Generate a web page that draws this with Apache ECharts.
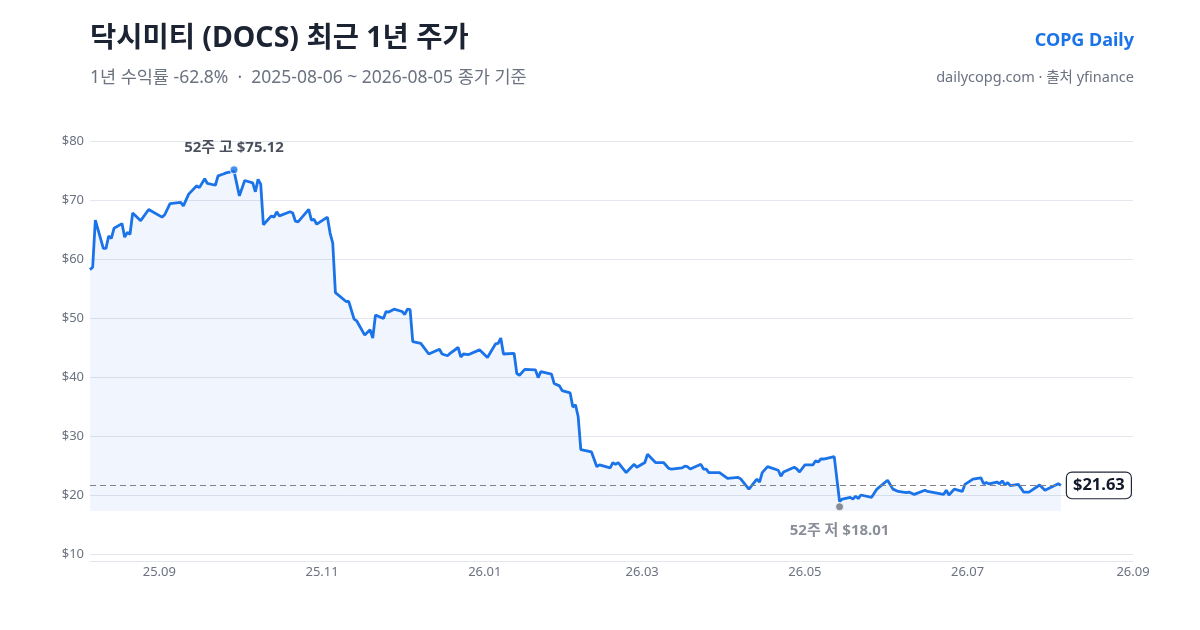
<!DOCTYPE html>
<html>
<head>
<meta charset="utf-8">
<title>닥시미티 (DOCS) 최근 1년 주가</title>
<script src="https://cdn.jsdelivr.net/npm/echarts@6/dist/echarts.min.js"></script>
<style>
  html, body { margin: 0; padding: 0; background: #fff; }
  #chart { width: 1200px; height: 630px; }
</style>
</head>
<body>
<div id="chart"></div>
<script>
var FONT = '"Noto Sans", "Noto Sans CJK KR", sans-serif'

// 종가
var dates = [
  '2025-08-06', '2025-08-07', '2025-08-08', '2025-08-11', '2025-08-12', '2025-08-13', '2025-08-14', '2025-08-15',
  '2025-08-18', '2025-08-19', '2025-08-20', '2025-08-21', '2025-08-22', '2025-08-25', '2025-08-28',
  '2025-09-02', '2025-09-03', '2025-09-05', '2025-09-09', '2025-09-10', '2025-09-12', '2025-09-15', '2025-09-16',
  '2025-09-18', '2025-09-19', '2025-09-22', '2025-09-23', '2025-09-25', '2025-09-26', '2025-09-29',
  '2025-10-01', '2025-10-03', '2025-10-06', '2025-10-07', '2025-10-08', '2025-10-09', '2025-10-10', '2025-10-13',
  '2025-10-14', '2025-10-15', '2025-10-16', '2025-10-20', '2025-10-21', '2025-10-22', '2025-10-23', '2025-10-27',
  '2025-10-28', '2025-10-29', '2025-10-30',
  '2025-11-03', '2025-11-04', '2025-11-05', '2025-11-06', '2025-11-10', '2025-11-11', '2025-11-13', '2025-11-14',
  '2025-11-17', '2025-11-19', '2025-11-20', '2025-11-21', '2025-11-24', '2025-11-25', '2025-11-26', '2025-11-28',
  '2025-12-01', '2025-12-02', '2025-12-03', '2025-12-04', '2025-12-05', '2025-12-08', '2025-12-09', '2025-12-11',
  '2025-12-15', '2025-12-16', '2025-12-18', '2025-12-19', '2025-12-22', '2025-12-23', '2025-12-24', '2025-12-26',
  '2025-12-30',
  '2026-01-02', '2026-01-05', '2026-01-06', '2026-01-07', '2026-01-08', '2026-01-12', '2026-01-13', '2026-01-14',
  '2026-01-16', '2026-01-20', '2026-01-21', '2026-01-22', '2026-01-26', '2026-01-27', '2026-01-29', '2026-01-30',
  '2026-02-02', '2026-02-03', '2026-02-04', '2026-02-05', '2026-02-06', '2026-02-10', '2026-02-12', '2026-02-13',
  '2026-02-17', '2026-02-18', '2026-02-19', '2026-02-20', '2026-02-23', '2026-02-26', '2026-02-27',
  '2026-03-02', '2026-03-03', '2026-03-06', '2026-03-09', '2026-03-11', '2026-03-12', '2026-03-16', '2026-03-17',
  '2026-03-18', '2026-03-19', '2026-03-23', '2026-03-24', '2026-03-25', '2026-03-26', '2026-03-30',
  '2026-04-02', '2026-04-06', '2026-04-07', '2026-04-10', '2026-04-13', '2026-04-14', '2026-04-15', '2026-04-17',
  '2026-04-21', '2026-04-22', '2026-04-23', '2026-04-27', '2026-04-28', '2026-04-29',
  '2026-05-01', '2026-05-04', '2026-05-05', '2026-05-06', '2026-05-07', '2026-05-08', '2026-05-12', '2026-05-14',
  '2026-05-15', '2026-05-18', '2026-05-19', '2026-05-20', '2026-05-21', '2026-05-22', '2026-05-26', '2026-05-28',
  '2026-06-01', '2026-06-03', '2026-06-05', '2026-06-08', '2026-06-09', '2026-06-11', '2026-06-15', '2026-06-16',
  '2026-06-22', '2026-06-23', '2026-06-24', '2026-06-26', '2026-06-29', '2026-06-30',
  '2026-07-03', '2026-07-06', '2026-07-07', '2026-07-08', '2026-07-09', '2026-07-12', '2026-07-13', '2026-07-14',
  '2026-07-15', '2026-07-16', '2026-07-17', '2026-07-20', '2026-07-22', '2026-07-24', '2026-07-28', '2026-07-30',
  '2026-08-04', '2026-08-05'
]

var closes = [
  58.2, 58.6, 66.6, 61.8, 61.8, 63.9, 63.5, 65.2,
  66.0, 63.7, 64.5, 64.2, 67.8, 66.5, 68.4,
  67.1, 67.5, 69.4, 69.6, 69.0, 71.0, 72.4, 72.1,
  73.6, 72.8, 72.5, 74.1, 74.4, 74.6, 74.9,
  70.7, 73.3, 72.9, 71.4, 73.5, 72.7, 65.8, 67.3,
  67.1, 68.0, 67.3, 68.0, 67.8, 66.4, 66.3, 68.4,
  66.6, 66.7, 65.9,
  67.1, 64.4, 62.7, 54.3, 52.8, 52.8, 49.8, 49.5,
  47.1, 48.0, 46.6, 50.5, 49.9, 51.1, 51.0, 51.5,
  51.1, 50.6, 51.5, 51.4, 46.0, 45.7, 45.1, 43.9,
  44.7, 43.9, 43.6, 44.0, 45.0, 43.4, 43.9, 43.8,
  44.6,
  43.3, 45.6, 45.7, 46.6, 43.9, 44.0, 40.6, 40.3,
  41.3, 41.2, 39.9, 40.9, 40.5, 38.9, 38.5, 37.7,
  37.3, 34.9, 35.3, 33.3, 27.7, 27.3, 24.8, 25.1,
  24.6, 25.5, 25.2, 25.5, 23.8, 25.2, 24.7,
  25.5, 26.9, 25.5, 25.5, 24.5, 24.4, 24.6, 24.9,
  24.8, 24.4, 25.2, 24.4, 24.4, 23.8, 23.8,
  22.8, 23.0, 22.7, 21.0, 22.7, 22.2, 23.8, 24.8,
  24.2, 23.2, 23.9, 24.7, 24.4, 23.9,
  25.1, 25.1, 25.8, 25.6, 26.1, 26.1, 26.5, 18.9,
  19.3, 19.6, 19.3, 19.8, 19.4, 20.0, 19.6, 21.0,
  22.5, 21.0, 20.6, 20.4, 20.5, 20.1, 20.8, 20.6,
  20.1, 20.8, 20.0, 21.0, 20.6, 21.8,
  22.7, 22.9, 21.9, 22.1, 21.9, 22.2, 21.9, 22.4,
  21.7, 22.1, 21.6, 21.8, 20.5, 20.5, 21.7, 20.8,
  21.9, 21.63
]

// 52주 고가 / 저가
var highPoint = ['2025-09-29', 75.12]
var lowPoint = ['2026-05-14', 18.01]

// x축 눈금 (두 달 간격)
var tickDates = ['2025-09-01', '2025-11-01', '2026-01-01', '2026-03-01', '2026-05-01', '2026-07-01', '2026-09-01']
var yTicks = [10, 20, 30, 40, 50, 60, 70, 80]

function toTime(s) {
  var p = s.split('-')
  return new Date(+p[0], +p[1] - 1, +p[2]).getTime()
}

var lastIdx = dates.length - 1
var lastClose = closes[lastIdx]
var lineData = dates.map(function (d, i) { return [toTime(d), closes[i]] })

var chart = echarts.init(document.getElementById('chart'), null, { renderer: 'canvas' })

chart.setOption({
  backgroundColor: '#ffffff',
  animation: false,
  textStyle: { fontFamily: FONT },
  title: [
    {
      text: '닥시미티 (DOCS) 최근 1년 주가',
      left: 90, top: 25, padding: 0,
      textStyle: { fontSize: 28.5, fontWeight: 'bold', color: '#1c2333', fontFamily: FONT }
    },
    {
      text: '1년 수익률 -62.8%  ·  2025-08-06 ~ 2026-08-05 종가 기준',
      left: 90, top: 69, padding: 0,
      textStyle: { fontSize: 17.5, fontWeight: 'normal', color: '#6b7280', fontFamily: FONT }
    },
    {
      text: 'COPG Daily',
      right: 66, top: 32, padding: 0,
      textStyle: { fontSize: 18, fontWeight: 'bold', color: '#1a73e8', fontFamily: FONT }
    },
    {
      text: 'dailycopg.com · 출처 yfinance',
      right: 66, top: 71, padding: 0,
      textStyle: { fontSize: 14.5, fontWeight: 'normal', color: '#6b7280', fontFamily: FONT }
    }
  ],
  grid: { left: 90, right: 67, top: 141, bottom: 76, containLabel: false },
  xAxis: {
    type: 'value',
    min: toTime(dates[0]),
    max: toTime(tickDates[tickDates.length - 1]),
    offset: 7,
    axisLine: { show: true, lineStyle: { color: '#e3e6ec', width: 1 } },
    axisTick: { show: false },
    splitLine: { show: false },
    axisLabel: {
      customValues: tickDates.map(toTime),
      margin: 5,
      fontSize: 13,
      color: '#6b7280',
      fontFamily: FONT,
      formatter: function (v) {
        var d = new Date(v)
        var m = d.getMonth() + 1
        return String(d.getFullYear()).slice(2) + '.' + (m < 10 ? '0' + m : m)
      }
    }
  },
  yAxis: {
    type: 'value',
    min: yTicks[0],
    max: yTicks[yTicks.length - 1],
    interval: 10,
    axisLine: { show: false },
    axisTick: { show: false },
    splitLine: { show: true, lineStyle: { color: '#e3e6ec', width: 1 } },
    axisLabel: {
      margin: 6,
      fontSize: 13,
      color: '#6b7280',
      fontFamily: FONT,
      formatter: function (v) { return '$' + v }
    }
  },
  series: [
    {
      type: 'line',
      data: lineData,
      showSymbol: false,
      smooth: false,
      lineStyle: { color: '#1a73e8', width: 2.8 },
      itemStyle: { color: '#1a73e8' },
      areaStyle: { color: 'rgba(26,115,232,0.09)', origin: 17.3 },
      z: 3,
      markLine: {
        silent: true,
        symbol: ['none', 'none'],
        lineStyle: { color: '#7d838c', type: [6, 4], width: 1.2 },
        label: {
          show: true,
          position: 'end',
          distance: 6,
          formatter: '$' + lastClose.toFixed(2),
          fontSize: 16.5,
          fontWeight: 'bold',
          color: '#111827',
          fontFamily: FONT,
          backgroundColor: '#ffffff',
          borderColor: '#1f2937',
          borderWidth: 1.2,
          borderRadius: 5,
          padding: [5, 6, 4, 6]
        },
        data: [[
          { coord: [toTime(dates[0]), lastClose] },
          { coord: [toTime(dates[lastIdx]), lastClose] }
        ]]
      }
    },
    {
      type: 'scatter',
      symbolSize: 8,
      z: 5,
      data: [
        {
          value: [toTime(highPoint[0]), highPoint[1]],
          itemStyle: { color: '#1a73e8', borderColor: '#ffffff', borderWidth: 1 },
          label: {
            show: true, position: 'top', distance: 10,
            formatter: '52주 고 $' + highPoint[1].toFixed(2),
            fontSize: 15, fontWeight: 'bold', color: '#1c2333', fontFamily: FONT
          }
        },
        {
          value: [toTime(lowPoint[0]), lowPoint[1]],
          itemStyle: { color: '#6b7280', borderColor: '#ffffff', borderWidth: 1 },
          label: {
            show: true, position: 'bottom', distance: 12,
            formatter: '52주 저 $' + lowPoint[1].toFixed(2),
            fontSize: 15, fontWeight: 'bold', color: '#6b7280', fontFamily: FONT
          }
        }
      ]
    }
  ]
})
</script>
</body>
</html>
